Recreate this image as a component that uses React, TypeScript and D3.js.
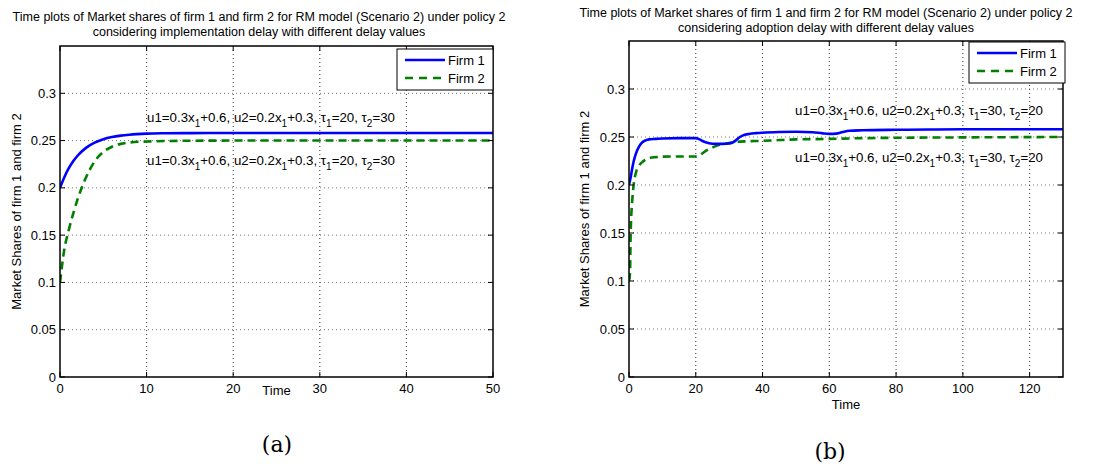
import React from "react";
import * as d3 from "d3";

// ---------- data ----------
const leftTime = [0, 0.5, 1, 1.5, 2, 3, 4, 5, 6, 7, 8, 10, 12, 15, 20, 30, 40, 50];
const leftFirm1 = [0.2, 0.2113, 0.2205, 0.2278, 0.2337, 0.2423, 0.2478, 0.2514, 0.2537, 0.2552, 0.2562, 0.2573, 0.2577, 0.2579, 0.258, 0.258, 0.258, 0.258];
const leftFirm2 = [0.1, 0.135, 0.155, 0.172, 0.187, 0.211, 0.228, 0.238, 0.2435, 0.2465, 0.248, 0.249, 0.2495, 0.2498, 0.25, 0.25, 0.25, 0.25];

const rightTime1 = [0, 0.5, 1, 1.5, 2, 3, 4, 5, 6, 8, 10, 15, 20, 21, 22, 24, 26, 28, 30, 31, 32, 33, 34, 36, 38, 40, 45, 50, 55, 58, 60, 62, 64, 66, 70, 80, 90, 100, 110, 120, 130];
const rightFirm1 = [0.2, 0.208, 0.218, 0.226, 0.232, 0.24, 0.2445, 0.2465, 0.2475, 0.248, 0.2485, 0.2488, 0.2488, 0.2478, 0.2458, 0.2435, 0.2428, 0.2428, 0.2432, 0.2442, 0.2465, 0.2495, 0.2515, 0.2532, 0.254, 0.2545, 0.2552, 0.2555, 0.255, 0.2538, 0.2533, 0.2535, 0.2552, 0.2565, 0.257, 0.2575, 0.2578, 0.258, 0.258, 0.258, 0.258];
const rightTime2 = [0, 0.3, 0.5, 1, 1.5, 2, 3, 4, 5, 6, 8, 10, 15, 20, 21, 22, 24, 26, 28, 30, 32, 35, 40, 45, 50, 60, 70, 80, 100, 130];
const rightFirm2 = [0.1, 0.108, 0.15, 0.185, 0.203, 0.212, 0.22, 0.224, 0.2265, 0.228, 0.229, 0.2295, 0.2297, 0.2297, 0.2305, 0.233, 0.2375, 0.2405, 0.2425, 0.2438, 0.2448, 0.2455, 0.246, 0.2468, 0.2475, 0.248, 0.2488, 0.2492, 0.2496, 0.25];

const yTicks = [0, 0.05, 0.1, 0.15, 0.2, 0.25, 0.3];
const yTickLabels = ["0", "0.05", "0.1", "0.15", "0.2", "0.25", "0.3"];
const leftXTicks = [0, 10, 20, 30, 40, 50];
const rightXTicks = [0, 20, 40, 60, 80, 100, 120];

const titleLine1 = "Time plots of Market shares of firm 1 and firm 2 for RM model (Scenario 2) under policy 2";
const leftTitleLine2 = "considering implementation delay with different delay values";
const rightTitleLine2 = "considering adoption delay with different delay values";
const yLabel = "Market Shares of firm 1 and firm 2";
const seriesNames = ["Firm 1", "Firm 2"];

const FONT = "'Liberation Sans', Arial, Helvetica, sans-serif";
const BLUE = "#0000ff";
const GREEN = "#007f00";

type PanelProps = {
  x0: number; x1: number; y0: number; y1: number;
  xMax: number; xTicks: number[];
  t1: number[]; v1: number[]; t2: number[]; v2: number[];
  titleCx: number; titleY: number; title2: string;
  tau1: string; tau2: string;
  annX: number; annY1: number; annY2: number;
  legX: number; legY: number;
  xlabelY: number; ylabelX: number;
  caption: string; capX: number; capY: number;
};

function Annotation({ x, y, tau1, tau2 }: { x: number; y: number; tau1: string; tau2: string }) {
  const sub = { dy: 5, fontSize: 10 };
  return (
    <text x={x} y={y} fontFamily={FONT} fontSize={13.3} fill="#000">
      <tspan>u1=0.3x</tspan>
      <tspan dy={sub.dy} fontSize={sub.fontSize}>1</tspan>
      <tspan dy={-sub.dy}>+0.6, u2=0.2x</tspan>
      <tspan dy={sub.dy} fontSize={sub.fontSize}>1</tspan>
      <tspan dy={-sub.dy}>+0.3, τ</tspan>
      <tspan dy={sub.dy} fontSize={sub.fontSize}>1</tspan>
      <tspan dy={-sub.dy}>={tau1}, τ</tspan>
      <tspan dy={sub.dy} fontSize={sub.fontSize}>2</tspan>
      <tspan dy={-sub.dy}>={tau2}</tspan>
    </text>
  );
}

function Panel(p: PanelProps) {
  const xs = d3.scaleLinear().domain([0, p.xMax]).range([p.x0, p.x1]);
  const ys = d3.scaleLinear().domain([0, 0.35]).range([p.y1, p.y0]);
  const line = d3.line<[number, number]>().x(d => xs(d[0])).y(d => ys(d[1])).curve(d3.curveMonotoneX);
  const d1 = line(p.t1.map((t, i) => [t, p.v1[i]] as [number, number])) || "";
  const d2 = line(p.t2.map((t, i) => [t, p.v2[i]] as [number, number])) || "";
  const clipId = `clip-${p.x0}`;
  return (
    <g>
      <defs>
        <clipPath id={clipId}>
          <rect x={p.x0} y={p.y0} width={p.x1 - p.x0} height={p.y1 - p.y0} />
        </clipPath>
      </defs>
      <text x={p.titleCx} y={p.titleY} textAnchor="middle" fontFamily={FONT} fontSize={12.5}>{titleLine1}</text>
      <text x={p.titleCx} y={p.titleY + 15} textAnchor="middle" fontFamily={FONT} fontSize={12.5}>{p.title2}</text>
      {/* grid */}
      {p.xTicks.filter(t => t > 0 && t < p.xMax).map(t => (
        <line key={"gx" + t} x1={xs(t)} x2={xs(t)} y1={p.y0} y2={p.y1} stroke="#000" strokeWidth={0.8} strokeDasharray="1,3" />
      ))}
      {yTicks.filter(t => t > 0).map(t => (
        <line key={"gy" + t} x1={p.x0} x2={p.x1} y1={ys(t)} y2={ys(t)} stroke="#555" strokeWidth={0.8} strokeDasharray="1,3" />
      ))}
      {/* curves */}
      <g clipPath={`url(#${clipId})`}>
        <path d={d2} fill="none" stroke={GREEN} strokeWidth={2.6} strokeDasharray="8,5" />
        <path d={d1} fill="none" stroke={BLUE} strokeWidth={2.6} />
      </g>
      {/* ticks */}
      {p.xTicks.map(t => (
        <g key={"tx" + t}>
          <line x1={xs(t)} x2={xs(t)} y1={p.y1} y2={p.y1 - 5} stroke="#000" />
          <line x1={xs(t)} x2={xs(t)} y1={p.y0} y2={p.y0 + 5} stroke="#000" />
          <text x={xs(t)} y={p.y1 + 16} textAnchor="middle" fontFamily={FONT} fontSize={13}>{t}</text>
        </g>
      ))}
      {yTicks.map((t, i) => (
        <g key={"ty" + t}>
          <line x1={p.x0} x2={p.x0 + 5} y1={ys(t)} y2={ys(t)} stroke="#000" />
          <line x1={p.x1} x2={p.x1 - 5} y1={ys(t)} y2={ys(t)} stroke="#000" />
          <text x={p.x0 - 4} y={ys(t) + 4.5} textAnchor="end" fontFamily={FONT} fontSize={13}>{yTickLabels[i]}</text>
        </g>
      ))}
      {/* frame */}
      <rect x={p.x0} y={p.y0} width={p.x1 - p.x0} height={p.y1 - p.y0} fill="none" stroke="#000" strokeWidth={1.5} />
      {/* labels */}
      <text x={(p.x0 + p.x1) / 2} y={p.xlabelY} textAnchor="middle" fontFamily={FONT} fontSize={13}>Time</text>
      <text transform={`translate(${p.ylabelX},${(p.y0 + p.y1) / 2}) rotate(-90)`} textAnchor="middle" fontFamily={FONT} fontSize={13}>{yLabel}</text>
      {/* annotations */}
      <Annotation x={p.annX} y={p.annY1} tau1={p.tau1} tau2={p.tau2} />
      <Annotation x={p.annX} y={p.annY2} tau1={p.tau1} tau2={p.tau2} />
      {/* legend */}
      <rect x={p.legX} y={p.legY} width={96} height={41} fill="#fff" stroke="#000" strokeWidth={1} />
      <line x1={p.legX + 8} x2={p.legX + 48} y1={p.legY + 11} y2={p.legY + 11} stroke={BLUE} strokeWidth={2.6} />
      <line x1={p.legX + 8} x2={p.legX + 48} y1={p.legY + 29} y2={p.legY + 29} stroke={GREEN} strokeWidth={2.6} strokeDasharray="8,6" />
      <text x={p.legX + 51} y={p.legY + 15.5} fontFamily={FONT} fontSize={13}>{seriesNames[0]}</text>
      <text x={p.legX + 51} y={p.legY + 33.5} fontFamily={FONT} fontSize={13}>{seriesNames[1]}</text>
      {/* caption */}
      <text x={p.capX} y={p.capY} textAnchor="middle" fontFamily="'DejaVu Serif', 'Liberation Serif', serif" fontSize={22}>{p.caption}</text>
    </g>
  );
}

export default function App() {
  return (
    <svg width={1117} height={471} style={{ position: "absolute", left: 0, top: 0, background: "#fff" }}>
      <rect width={1117} height={471} fill="#fff" />
      <Panel x0={60} x1={493} y0={46} y1={377} xMax={50} xTicks={leftXTicks}
        t1={leftTime} v1={leftFirm1} t2={leftTime} v2={leftFirm2}
        titleCx={259} titleY={21} title2={leftTitleLine2} tau1="20" tau2="30"
        annX={147} annY1={122} annY2={165} legX={397} legY={49}
        xlabelY={395} ylabelX={21} caption="(a)" capX={277} capY={452} />
      <Panel x0={629} x1={1063} y0={41} y1={377} xMax={130} xTicks={rightXTicks}
        t1={rightTime1} v1={rightFirm1} t2={rightTime2} v2={rightFirm2}
        titleCx={826} titleY={17} title2={rightTitleLine2} tau1="30" tau2="20"
        annX={795} annY1={115} annY2={162} legX={969} legY={42}
        xlabelY={409} ylabelX={589} caption="(b)" capX={830} capY={459} />
    </svg>
  );
}
